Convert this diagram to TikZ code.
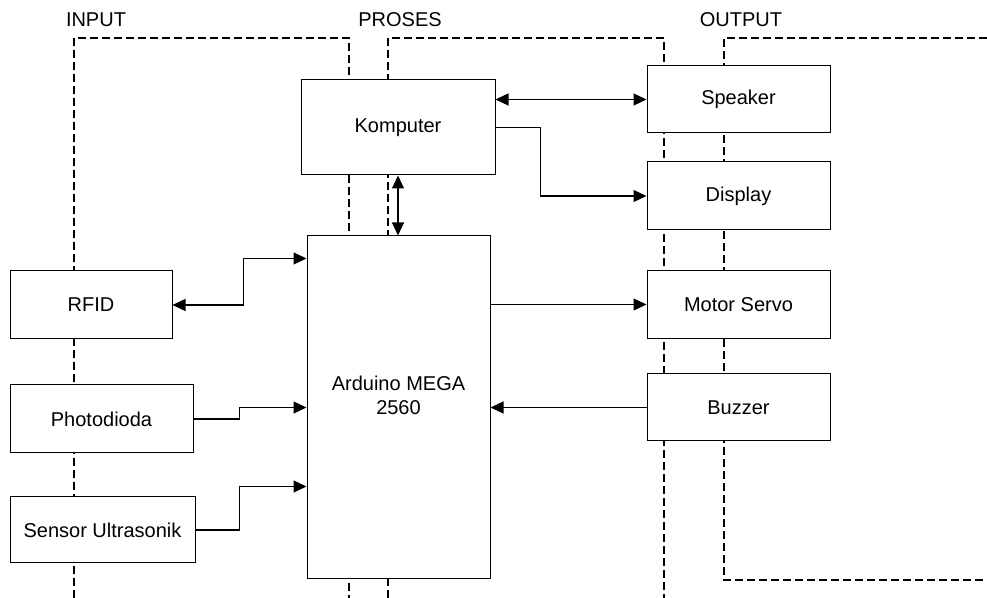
\documentclass[tikz,border=0pt]{standalone}
\usepackage{fontspec}
\setmainfont{Liberation Sans}
\usetikzlibrary{arrows.meta,positioning,calc}
\tikzset{
  blok/.style       = {draw, line width=0.5pt, fill=white, minimum width=91.5pt,
                       minimum height=34pt, inner sep=2pt, align=center},
  sig/.style        = {-{Triangle[length=6.5pt,width=6pt]}, line width=0.6pt},
  bisig/.style      = {{Triangle[length=6.5pt,width=6pt]}-{Triangle[length=6.5pt,width=6pt]}, line width=0.6pt},
  batas/.style      = {line width=1.2pt, dash pattern=on 4pt off 2pt},
  every node/.style = {font=\fontsize{10}{12}\selectfont},
  judul/.style      = {inner sep=1pt},
}

\begin{document}
\begin{tikzpicture}[x=0.5pt, y=-0.5pt]
  \useasboundingbox (0,0) rectangle (987,598);
  % batas daerah
  \draw[batas] (74,598) -- (74,38) -- (349,38) -- (349,598);
  \draw[batas] (388,598) -- (388,38) -- (664,38) -- (664,598);
  \draw[batas] (987,38) -- (724,38) -- (724,580) -- (987,580);
  \node[judul] (tin)  at (96,20)  {INPUT};
  \node[judul] (tpro) at (400,20) {PROSES};
  \node[judul] (tout) at (741,20) {OUTPUT};
  % blok
  \node[blok, minimum width=97pt, minimum height=47.5pt] (komp) at (398,127.5) {Komputer};
  \node[blok, minimum height=171.5pt] (ard) at (398.5,407.5) {Arduino MEGA\\2560\\\mbox{}};
  \node[blok, minimum height=33.5pt] (speaker) at (738.5,99.5) {Speaker};
  \node[blok] (display) at (738.5,196) {Display};
  \node[blok] (servo) at (738.5,304.5) {Motor Servo};
  \node[blok, minimum height=33.5pt] (buzzer) at (738.5,407.5) {Buzzer};
  \node[blok, minimum width=81pt] (rfid) at (91,305) {RFID};
  \node[blok] (photo) at (101.5,419) {Photodioda};
  \node[blok, minimum width=92.5pt, minimum height=33pt] (sensor) at (102.5,530) {Sensor Ultrasonik};
  % hubungan
  \draw[bisig] (komp.east |- speaker.west) -- (speaker.west);
  \draw[sig] (komp.east) -- ++(45,0) |- (display.west);
  \draw[bisig] (komp.south) -- (komp.south |- ard.north);
  \draw[bisig] (rfid.east) -- ++(71,0) |- ($(ard.north west)+(0,23)$);
  \draw[sig] (photo.east) -- ++(46,0) |- (ard.west);
  \draw[sig] (sensor.east) -- ++(44,0) |- ($(ard.north west)+(0,251)$);
  \draw[sig] (ard.east |- servo.west) -- (servo.west);
  \draw[sig] (buzzer.west) -- (ard.east |- buzzer.west);
\end{tikzpicture}
\end{document}
